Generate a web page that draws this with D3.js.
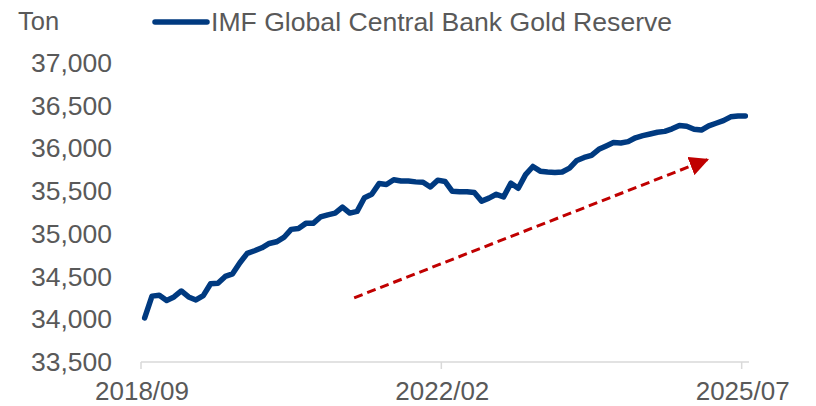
<!DOCTYPE html>
<html><head><meta charset="utf-8">
<script src="https://cdn.jsdelivr.net/npm/d3@7"></script>
<style>body{margin:0;background:#fff}svg{display:block}</style>
</head><body><svg id="c" width="816" height="406"></svg>
<script>
const startYear = 2018, startMonth = 9;
const values = [
 34015,34270,34280,34220,34260,34330,34260,34225,34275,34415,
 34420,34500,34530,34660,34770,34800,34835,34885,34905,34955,
 35050,35060,35120,35120,35195,35220,35240,35310,35240,35260,
 35420,35460,35585,35575,35630,35615,35615,35605,35600,35545,
 35625,35610,35495,35490,35490,35480,35380,35415,35460,35430,
 35590,35530,35690,35785,35730,35720,35715,35720,35765,35855,
 35890,35915,35985,36025,36065,36060,36075,36120,36145,36165,
 36185,36195,36225,36265,36255,36220,36210,36260,36290,36320,
 36365,36375,36375
];
const months = values.map((v,i)=>{const m=startMonth-1+i;const y=startYear+Math.floor(m/12);return y+"/"+String(m%12+1).padStart(2,"0");});
const xTickLabels = ["2018/09","2022/02","2025/07"];
const yTicks = [33500,34000,34500,35000,35500,36000,36500,37000];
const seriesName = "IMF Global Central Bank Gold Reserve";
const unitLabel = "Ton";
// trend arrow annotation in data space: [index, value]
const arrowStart = [28.6, 34250];
const arrowEnd = [76.8, 35865];

const svg = d3.select("#c");
const font = "'Liberation Sans', Arial, sans-serif";
const txt = "#595959";
const x = d3.scaleLinear().domain([-0.5, values.length-0.5]).range([141, 749]);
const y = d3.scaleLinear().domain([33500, 37000]).range([362, 62.5]);

// y labels
svg.append("g").selectAll("text").data(yTicks).join("text")
  .attr("x",112).attr("y",d=>y(d)).attr("dy","0.35em").attr("text-anchor","end")
  .attr("font-family",font).attr("font-size",26.5).attr("fill",txt)
  .text(d=>d3.format(",")(d));

// x axis
svg.append("line").attr("x1",x(-0.5)).attr("x2",x(values.length-0.5))
  .attr("y1",y(33500)).attr("y2",y(33500)).attr("stroke","#d9d9d9").attr("stroke-width",1.5);
const tickIdx = xTickLabels.map(l=>months.indexOf(l));
svg.append("g").selectAll("line").data(tickIdx).join("line")
  .attr("x1",d=>x(d-0.5)).attr("x2",d=>x(d-0.5)).attr("y1",y(33500)).attr("y2",y(33500)+7)
  .attr("stroke","#d9d9d9").attr("stroke-width",1.5);
svg.append("g").selectAll("text").data(tickIdx).join("text")
  .attr("x",d=>x(d-0.5)+1).attr("y",400).attr("text-anchor","middle")
  .attr("font-family",font).attr("font-size",26).attr("fill",txt)
  .text(d=>months[d]);

// arrow
const defs = svg.append("defs");
defs.append("marker").attr("id","ah").attr("viewBox","0 0 10 10").attr("refX",9).attr("refY",5)
  .attr("markerWidth",6.5).attr("markerHeight",6.5).attr("orient","auto")
  .append("path").attr("d","M0,0 L10,5 L0,10 z").attr("fill","#c00000");
svg.append("line").attr("x1",x(arrowStart[0])).attr("y1",y(arrowStart[1]))
  .attr("x2",x(arrowEnd[0])).attr("y2",y(arrowEnd[1]))
  .attr("stroke","#c00000").attr("stroke-width",3).attr("stroke-dasharray","9,5")
  .attr("marker-end","url(#ah)");

// series
const line = d3.line().x((d,i)=>x(i)).y(d=>y(d));
svg.append("path").datum(values).attr("d",line).attr("fill","none")
  .attr("stroke","#003a80").attr("stroke-width",5.5).attr("stroke-linejoin","round").attr("stroke-linecap","round");

// legend & unit
svg.append("text").attr("x",18).attr("y",30).attr("font-family",font).attr("font-size",25.5).attr("fill",txt).text(unitLabel);
svg.append("line").attr("x1",155).attr("x2",207).attr("y1",22).attr("y2",22).attr("stroke","#003a80").attr("stroke-width",5.5).attr("stroke-linecap","round");
svg.append("text").attr("x",211).attr("y",31).attr("font-family",font).attr("font-size",26.6).attr("fill",txt).text(seriesName);
</script></body></html>
